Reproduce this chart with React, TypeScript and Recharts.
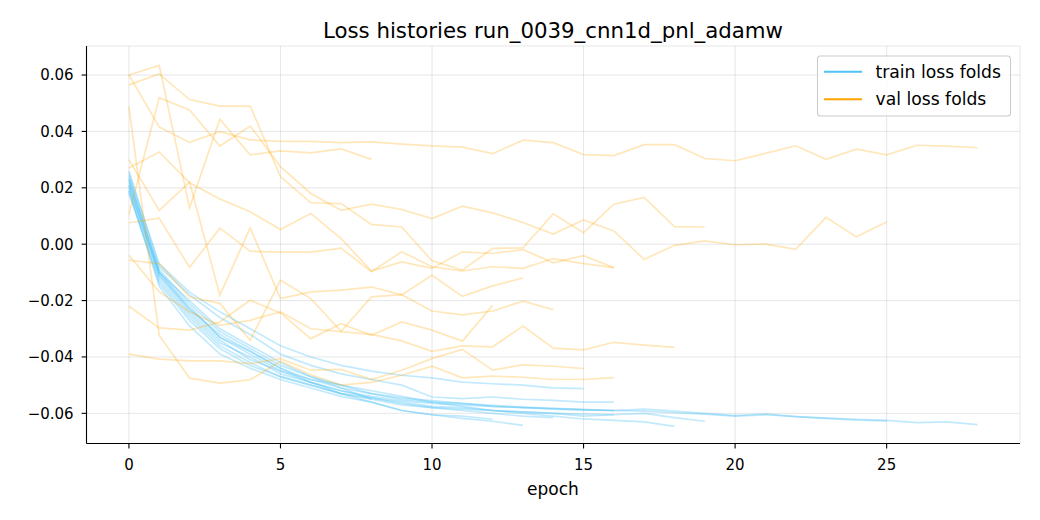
import React from 'react';
import { LineChart, Line, XAxis, YAxis, CartesianGrid } from 'recharts';

const epochs = [0, 1, 2, 3, 4, 5, 6, 7, 8, 9, 10, 11, 12, 13, 14, 15, 16, 17, 18, 19, 20, 21, 22, 23, 24, 25, 26, 27, 28];
const xTicks = [0, 5, 10, 15, 20, 25];
const yTicks = [-0.06, -0.04, -0.02, 0, 0.02, 0.04, 0.06];

// train loss per fold
const trainA = [0.0240, -0.0100, -0.0230, -0.0330, -0.0380, -0.0440, -0.0480, -0.0510, -0.0530, -0.0545, -0.0555, -0.0565, -0.0572, -0.0578, -0.0582, -0.0586, -0.0590, -0.0592, -0.0598, -0.0603, -0.0610, -0.0605, -0.0612, -0.0617, -0.0621, -0.0625, -0.0633, -0.0630, -0.0640];
const trainB = [0.0230, -0.0100, -0.0200, -0.0300, -0.0360, -0.0420, -0.0470, -0.0510, -0.0550];
const trainC = [0.0190, -0.0140, -0.0270, -0.0370, -0.0430, -0.0470, -0.0500, -0.0530, -0.0550, -0.0570, -0.0580, -0.0585, -0.0590, -0.0595, -0.0600, -0.0610, -0.0605, -0.0600, -0.0615, -0.0628];
const trainD = [0.0210, -0.0120, -0.0250, -0.0350, -0.0400, -0.0460, -0.0490, -0.0520, -0.0540, -0.0555, -0.0565, -0.0570, -0.0575, -0.0580, -0.0585, -0.0588, -0.0590, -0.0585, -0.0592, -0.0600, -0.0608, -0.0602, -0.0612, -0.0618, -0.0624, -0.0627];
const trainE = [0.0260, -0.0080, -0.0180, -0.0260, -0.0320, -0.0390, -0.0430, -0.0460, -0.0480, -0.0500, -0.0542, -0.0548, -0.0542, -0.0550, -0.0554, -0.0560, -0.0560];
const trainF = [0.0200, -0.0110, -0.0240, -0.0340, -0.0410, -0.0450, -0.0480, -0.0500, -0.0530, -0.0550, -0.0560, -0.0565, -0.0575, -0.0580, -0.0583, -0.0588, -0.0590];
const trainG = [0.0190, -0.0150, -0.0290, -0.0390, -0.0440, -0.0480, -0.0510, -0.0540, -0.0560, -0.0590, -0.0605, -0.0618, -0.0628, -0.0643];
const trainH = [0.0230, -0.0090, -0.0210, -0.0310, -0.0370, -0.0430, -0.0470, -0.0500, -0.0520, -0.0540, -0.0560, -0.0575, -0.0590, -0.0600, -0.0610, -0.0620, -0.0625, -0.0630, -0.0646];
const trainI = [0.0220, -0.0100, -0.0220, -0.0330, -0.0390, -0.0450, -0.0490, -0.0520, -0.0545, -0.0565, -0.0580, -0.0590, -0.0600, -0.0610, -0.0615];
const trainJ = [0.0210, -0.0110, -0.0230, -0.0320, -0.0380, -0.0440, -0.0490, -0.0530, -0.0560, -0.0590, -0.0605, -0.0610, -0.0621];
const trainK = [0.0250, -0.0070, -0.0170, -0.0240, -0.0300, -0.0360, -0.0400, -0.0430, -0.0450, -0.0465, -0.0474, -0.0489, -0.0495, -0.0500, -0.0510, -0.0512];
const trainL = [0.0180, -0.0130, -0.0260, -0.0360, -0.0420, -0.0470, -0.0500, -0.0530, -0.0545, -0.0560, -0.0575, -0.0580, -0.0590, -0.0595, -0.0600, -0.0603, -0.0605];

// val loss per fold
const valA = [0.0600, 0.0416, 0.0361, 0.0399, 0.0370, 0.0365, 0.0365, 0.0360, 0.0363, 0.0355, 0.0349, 0.0344, 0.0321, 0.0369, 0.0360, 0.0318, 0.0314, 0.0353, 0.0353, 0.0304, 0.0296, 0.0322, 0.0349, 0.0301, 0.0337, 0.0317, 0.0351, 0.0348, 0.0342];
const valB = [0.0600, 0.0634, 0.0129, 0.0443, 0.0317, 0.0331, 0.0324, 0.0338, 0.0301];
const valC = [0.0565, 0.0604, 0.0513, 0.0490, 0.0490, 0.0240, 0.0147, 0.0144, 0.0070, 0.0061, -0.0059, -0.0092, -0.0015, -0.0013, 0.0108, 0.0041, 0.0142, 0.0166, 0.0062, 0.0061];
const valD = [0.0105, 0.0520, 0.0476, 0.0348, 0.0419, 0.0275, 0.0180, 0.0120, 0.0142, 0.0123, 0.0091, 0.0135, 0.0111, 0.0077, 0.0036, 0.0086, 0.0047, -0.0054, -0.0004, 0.0012, -0.0002, 0.0000, -0.0018, 0.0095, 0.0026, 0.0079];
const valE = [0.0270, 0.0327, 0.0218, 0.0160, 0.0115, 0.0052, 0.0109, 0.0020, -0.0095, -0.0063, -0.0086, -0.0027, -0.0033, -0.0019, -0.0066, -0.0041, -0.0083];
const valF = [0.0076, 0.0092, -0.0082, 0.0057, -0.0025, -0.0028, -0.0028, -0.0014, -0.0098, -0.0027, -0.0080, -0.0095, -0.0080, -0.0086, -0.0051, -0.0069, -0.0083];
const valG = [0.0300, 0.0120, 0.0220, -0.0181, 0.0058, -0.0193, -0.0169, -0.0163, -0.0152, -0.0180, -0.0110, -0.0185, -0.0148, -0.0120];
const valH = [-0.0039, -0.0169, -0.0240, -0.0288, -0.0270, -0.0240, -0.0300, -0.0310, -0.0320, -0.0343, -0.0380, -0.0361, -0.0364, -0.0290, -0.0369, -0.0375, -0.0348, -0.0358, -0.0366];
const valI = [-0.0057, -0.0069, -0.0187, -0.0210, -0.0341, -0.0128, -0.0193, -0.0309, -0.0187, -0.0179, -0.0237, -0.0251, -0.0237, -0.0202, -0.0232];
const valJ = [-0.0220, -0.0297, -0.0305, -0.0276, -0.0199, -0.0244, -0.0335, -0.0282, -0.0323, -0.0276, -0.0305, -0.0344, -0.0217];
const valK = [-0.0390, -0.0408, -0.0414, -0.0414, -0.0424, -0.0406, -0.0447, -0.0444, -0.0480, -0.0447, -0.0406, -0.0373, -0.0447, -0.0428, -0.0433, -0.0441];
const valL = [0.0488, -0.0324, -0.0475, -0.0493, -0.0481, -0.0415, -0.0463, -0.0500, -0.0490, -0.0465, -0.0433, -0.0474, -0.0468, -0.0472, -0.0480, -0.0480, -0.0473];

const trainFolds = [trainA, trainB, trainC, trainD, trainE, trainF, trainG, trainH, trainI, trainJ, trainK, trainL];
const valFolds = [valA, valB, valC, valD, valE, valF, valG, valH, valI, valJ, valK, valL];

const TRAIN_COLOR = '#4fc3f7';
const VAL_COLOR = '#ffa500';
const FONT = '"DejaVu Sans", sans-serif';

const rows = epochs.map((e) => {
  const row: Record<string, number> = { epoch: e };
  trainFolds.forEach((arr, i) => {
    if (e < arr.length) row['t' + i] = arr[e];
  });
  valFolds.forEach((arr, i) => {
    if (e < arr.length) row['v' + i] = arr[e];
  });
  return row;
});

const fmtY = (v: number) => {
  const s = Math.abs(v).toFixed(2);
  return v < -1e-9 ? '\u2212' + s : s;
};

const X_DOMAIN: [number, number] = [-1.4, 29.4];
const Y_DOMAIN: [number, number] = [-0.0707, 0.0703];

export default function App() {
  const series: React.ReactNode[] = [];
  trainFolds.forEach((_, i) => {
    series.push(
      <Line
        key={'t' + i}
        type="linear"
        dataKey={'t' + i}
        stroke={TRAIN_COLOR}
        strokeOpacity={0.35}
        strokeWidth={1.7}
        dot={false}
        activeDot={false}
        isAnimationActive={false}
        connectNulls={false}
      />
    );
  });
  valFolds.forEach((_, i) => {
    series.push(
      <Line
        key={'v' + i}
        type="linear"
        dataKey={'v' + i}
        stroke={VAL_COLOR}
        strokeOpacity={0.27}
        strokeWidth={1.7}
        dot={false}
        activeDot={false}
        isAnimationActive={false}
        connectNulls={false}
      />
    );
  });

  return (
    <div style={{ position: 'absolute', left: 0, top: 0, width: 1040, height: 520, background: '#fff' }}>
      <LineChart
        width={1040}
        height={520}
        data={rows}
        margin={{ top: 46, right: 20, left: 0, bottom: 0 }}
      >
        <CartesianGrid stroke="#b0b0b0" strokeOpacity={0.3} strokeWidth={1} />
        <XAxis
          dataKey="epoch"
          type="number"
          domain={X_DOMAIN}
          ticks={xTicks}
          allowDataOverflow
          height={76.5}
          tickSize={4.9}
          tickMargin={10.5}
          stroke="#000"
          tick={{ fill: '#000', fontSize: 15, fontFamily: FONT }}
          tickLine={{ stroke: '#000', strokeWidth: 1.1 }}
          axisLine={{ stroke: '#000', strokeWidth: 1.1 }}
        />
        <XAxis
          xAxisId="top"
          orientation="top"
          dataKey="epoch"
          type="number"
          domain={X_DOMAIN}
          allowDataOverflow
          height={0}
          tick={false}
          tickLine={false}
          axisLine={{ stroke: '#000', strokeWidth: 1.1 }}
        />
        <YAxis
          type="number"
          domain={Y_DOMAIN}
          ticks={yTicks}
          allowDataOverflow
          width={86.5}
          tickSize={4.9}
          tickMargin={8}
          tickFormatter={fmtY}
          stroke="#000"
          tick={{ fill: '#000', fontSize: 15, fontFamily: FONT }}
          tickLine={{ stroke: '#000', strokeWidth: 1.1 }}
          axisLine={{ stroke: '#000', strokeWidth: 1.1 }}
        />
        <YAxis
          yAxisId="right"
          orientation="right"
          type="number"
          domain={Y_DOMAIN}
          allowDataOverflow
          width={0}
          tick={false}
          tickLine={false}
          axisLine={{ stroke: '#000', strokeWidth: 1.1 }}
        />
        {series}
      </LineChart>
      <svg
        width={1040}
        height={520}
        style={{ position: 'absolute', left: 0, top: 0, pointerEvents: 'none' }}
      >
        <text x={553} y={38.3} textAnchor="middle" fontFamily={FONT} fontSize={21.3} fill="#000">
          Loss histories run_0039_cnn1d_pnl_adamw
        </text>
        <text x={553} y={495} textAnchor="middle" fontFamily={FONT} fontSize={17} fill="#000">
          epoch
        </text>
        <rect x={817.5} y={56} width={193} height={60} rx={3} ry={3} fill="#fff" fillOpacity={0.8} stroke="#cccccc" strokeWidth={1.1} />
        <line x1={824} y1={71.7} x2={862} y2={71.7} stroke={TRAIN_COLOR} strokeWidth={2.1} />
        <text x={875.5} y={77.5} fontFamily={FONT} fontSize={17.2} fill="#000">train loss folds</text>
        <line x1={824} y1={99.3} x2={862} y2={99.3} stroke={VAL_COLOR} strokeWidth={2.1} />
        <text x={875.5} y={105} fontFamily={FONT} fontSize={17.2} fill="#000">val loss folds</text>
      </svg>
    </div>
  );
}
